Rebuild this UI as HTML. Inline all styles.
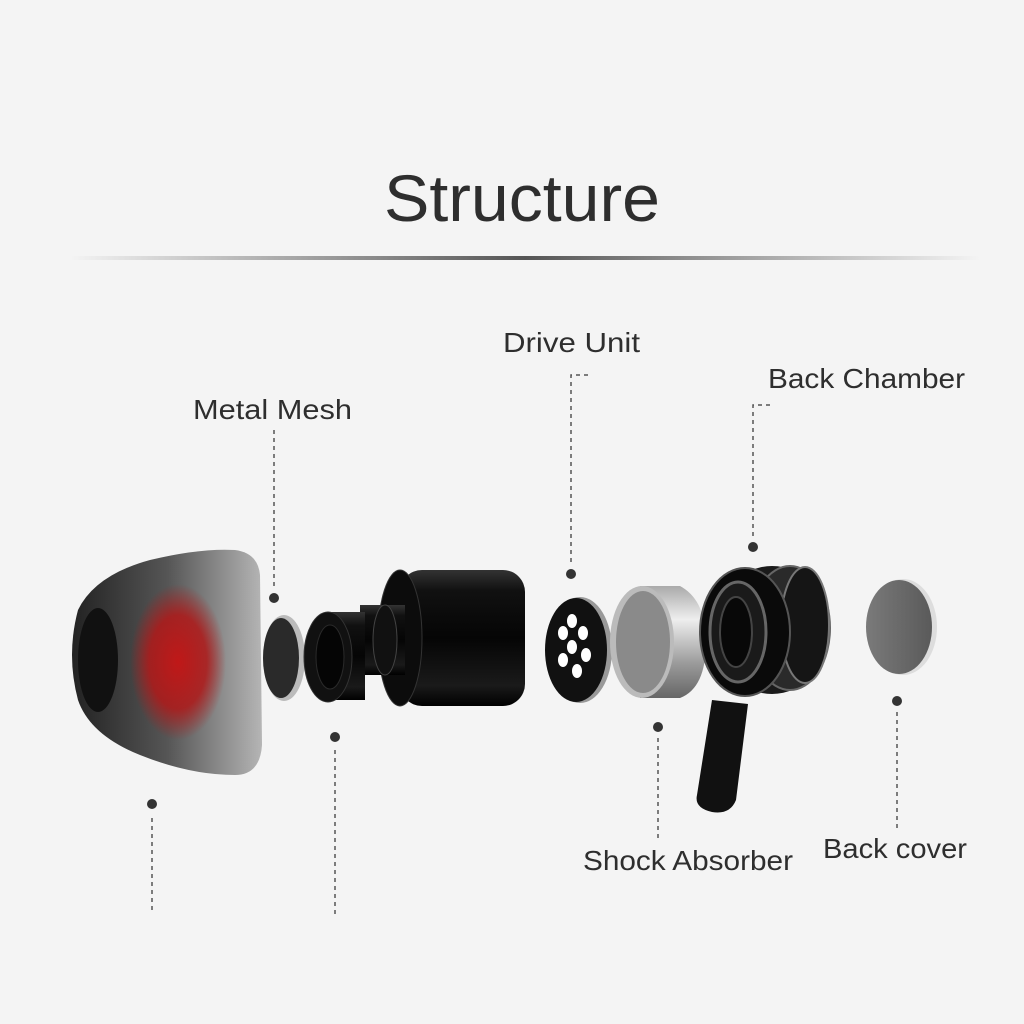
<!DOCTYPE html>
<html><head><meta charset="utf-8"><style>
html,body{margin:0;padding:0;background:#f4f4f4;}
svg{display:block}
text{font-family:"Liberation Sans","DejaVu Sans",sans-serif;fill:#2e2e2e}
</style></head><body>
<svg width="1024" height="1024" viewBox="0 0 1024 1024" xmlns="http://www.w3.org/2000/svg">
<defs>
<linearGradient id="hl" x1="0" x2="1"><stop offset="0" stop-color="#f4f4f4"/><stop offset="0.5" stop-color="#555"/><stop offset="1" stop-color="#f4f4f4"/></linearGradient>
<linearGradient id="tip" x1="0" x2="1"><stop offset="0" stop-color="#222"/><stop offset="0.5" stop-color="#555"/><stop offset="1" stop-color="#b5b5b5"/></linearGradient>
<radialGradient id="red" cx="0.5" cy="0.5" r="0.5"><stop offset="0" stop-color="#c01818" stop-opacity="1"/><stop offset="0.6" stop-color="#b01818" stop-opacity="0.85"/><stop offset="1" stop-color="#b01818" stop-opacity="0"/></radialGradient>
<linearGradient id="blk" x1="0" y1="0" x2="0" y2="1"><stop offset="0" stop-color="#333"/><stop offset="0.15" stop-color="#111"/><stop offset="0.5" stop-color="#050505"/><stop offset="0.85" stop-color="#1a1a1a"/><stop offset="1" stop-color="#000"/></linearGradient>
<linearGradient id="sil" x1="0" y1="0" x2="0" y2="1"><stop offset="0" stop-color="#aaa"/><stop offset="0.3" stop-color="#eee"/><stop offset="0.7" stop-color="#999"/><stop offset="1" stop-color="#666"/></linearGradient>
<linearGradient id="gry" x1="0" x2="1"><stop offset="0" stop-color="#7a7a7a"/><stop offset="1" stop-color="#5a5a5a"/></linearGradient>
</defs>
<rect width="1024" height="1024" fill="#f4f4f4"/>
<text x="522" y="221" font-size="66" text-anchor="middle" fill="#333" textLength="276" lengthAdjust="spacingAndGlyphs">Structure</text>
<rect x="70" y="256" width="910" height="4" fill="url(#hl)"/>

<g font-size="28">
<text x="503" y="352" textLength="137" lengthAdjust="spacingAndGlyphs">Drive Unit</text>
<text x="768" y="388" textLength="197" lengthAdjust="spacingAndGlyphs">Back Chamber</text>
<text x="193" y="419" textLength="159" lengthAdjust="spacingAndGlyphs">Metal Mesh</text>
<text x="583" y="870" textLength="210" lengthAdjust="spacingAndGlyphs">Shock Absorber</text>
<text x="823" y="858" textLength="144" lengthAdjust="spacingAndGlyphs">Back cover</text>
</g>

<g stroke="#555" stroke-width="1.5" stroke-dasharray="4 4" fill="none">
<path d="M274 430V588"/>
<path d="M588 375H571V564"/>
<path d="M770 405H753V537"/>
<path d="M658 738V840"/>
<path d="M897 712V832"/>
<path d="M152 818V912"/>
<path d="M335 750V914"/>
</g>
<g fill="#333">
<circle cx="274" cy="598" r="5"/><circle cx="571" cy="574" r="5"/><circle cx="753" cy="547" r="5"/>
<circle cx="658" cy="727" r="5"/><circle cx="897" cy="701" r="5"/><circle cx="152" cy="804" r="5"/><circle cx="335" cy="737" r="5"/>
</g>

<!-- eartip -->
<path d="M78 610 Q95 575 150 560 Q200 548 235 550 Q258 553 260 575 L262 745 Q260 775 235 775 Q190 775 140 755 Q90 735 78 700 Q66 655 78 610Z" fill="url(#tip)"/>
<ellipse cx="178" cy="662" rx="48" ry="78" fill="url(#red)"/>
<ellipse cx="98" cy="660" rx="20" ry="52" fill="#111"/>

<!-- mesh -->
<ellipse cx="284" cy="658" rx="21" ry="43" fill="#bbb"/>
<ellipse cx="281" cy="658" rx="18" ry="40" fill="#2a2a2a"/>

<!-- nozzle -->
<rect x="400" y="570" width="125" height="136" rx="22" fill="url(#blk)"/>
<ellipse cx="400" cy="638" rx="22" ry="68" fill="#0c0c0c" stroke="#333"/>
<rect x="360" y="605" width="45" height="70" fill="url(#blk)"/>
<ellipse cx="385" cy="640" rx="12" ry="35" fill="#111" stroke="#444"/>
<rect x="330" y="612" width="35" height="88" fill="url(#blk)"/>
<ellipse cx="328" cy="657" rx="24" ry="45" fill="#111" stroke="#333"/>
<ellipse cx="330" cy="657" rx="14" ry="32" fill="#050505" stroke="#2a2a2a"/>

<!-- drive unit -->
<ellipse cx="580" cy="650" rx="32" ry="53" fill="#999"/>
<ellipse cx="576" cy="650" rx="31" ry="52" fill="#111"/>
<g fill="#fff">
<ellipse cx="572" cy="621" rx="5" ry="7"/><ellipse cx="563" cy="633" rx="5" ry="7"/><ellipse cx="583" cy="633" rx="5" ry="7"/>
<ellipse cx="572" cy="647" rx="5" ry="7"/><ellipse cx="563" cy="660" rx="5" ry="7"/><ellipse cx="586" cy="655" rx="5" ry="7"/><ellipse cx="577" cy="671" rx="5" ry="7"/>
</g>

<!-- shock absorber -->
<path d="M640 586 L680 586 Q706 600 706 642 Q706 688 680 698 L640 698Z" fill="url(#sil)"/>
<ellipse cx="642" cy="642" rx="32" ry="56" fill="#bbb"/>
<ellipse cx="643" cy="642" rx="27" ry="51" fill="#8a8a8a"/>

<!-- back chamber -->
<path d="M712 700 L748 704 L736 800 Q730 815 712 812 Q694 808 697 795Z" fill="#111"/>
<ellipse cx="772" cy="630" rx="58" ry="64" fill="#1a1a1a"/>
<ellipse cx="790" cy="628" rx="40" ry="62" fill="#2a2a2a" stroke="#666" stroke-width="2"/>
<ellipse cx="805" cy="625" rx="24" ry="58" fill="#151515" stroke="#777" stroke-width="2"/>
<ellipse cx="745" cy="632" rx="45" ry="64" fill="#0a0a0a" stroke="#555" stroke-width="2"/>
<ellipse cx="738" cy="632" rx="28" ry="50" fill="#1a1a1a" stroke="#666" stroke-width="3"/>
<ellipse cx="736" cy="632" rx="16" ry="35" fill="#080808" stroke="#444" stroke-width="2"/>

<!-- back cover -->
<ellipse cx="903" cy="627" rx="34" ry="48" fill="#ddd"/>
<ellipse cx="899" cy="627" rx="33" ry="47" fill="url(#gry)"/>
</svg>
</body></html>
